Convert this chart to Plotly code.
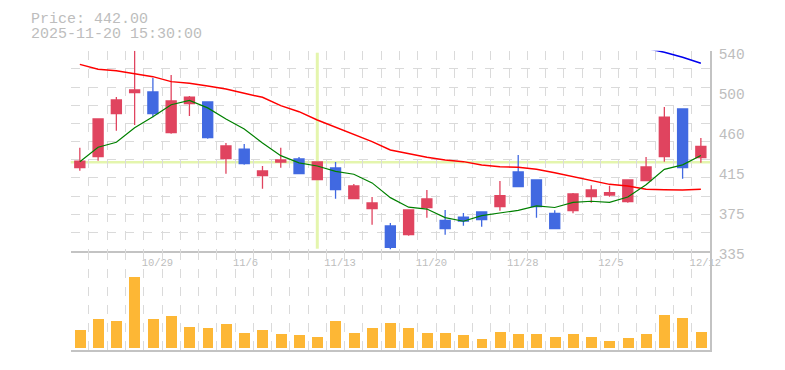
import plotly.graph_objects as go

# ---------------- data ----------------
dates = ["10/23", "10/24", "10/27", "10/28", "10/29", "10/30", "10/31", "11/4", "11/5", "11/6",
         "11/7", "11/10", "11/11", "11/12", "11/13", "11/14", "11/17", "11/18", "11/19", "11/20",
         "11/21", "11/25", "11/26", "11/27", "11/28", "12/1", "12/2", "12/3", "12/4", "12/5",
         "12/8", "12/9", "12/10", "12/11", "12/12"]

opens  = [420.1, 431.4, 475.5, 497.0, 497.7, 456.0, 485.7, 487.4, 429.3, 439.2,
          411.9, 425.9, 429.0, 407.8, 419.8, 388.3, 378.1, 360.3, 351.4, 379.1,
          366.1, 369.5, 374.7, 380.1, 415.7, 407.5, 373.3, 376.0, 390.4, 392.1,
          385.3, 406.8, 431.4, 480.3, 430.4]
highs  = [440.6, 470.7, 492.5, 540.0, 512.0, 515.1, 493.6, 487.6, 445.4, 444.4,
          421.8, 440.6, 431.0, 426.6, 425.9, 403.4, 390.0, 363.4, 376.9, 397.2,
          376.7, 373.6, 374.9, 406.5, 433.1, 408.2, 376.4, 394.1, 402.0, 401.7,
          407.7, 431.0, 482.3, 480.9, 450.5]
lows   = [417.0, 427.3, 458.0, 463.9, 471.7, 455.0, 473.1, 449.8, 414.0, 423.2,
          398.6, 420.1, 414.0, 407.6, 388.3, 388.1, 361.7, 336.4, 350.4, 368.9,
          351.4, 360.7, 359.6, 376.0, 400.4, 368.9, 357.4, 373.3, 384.2, 390.4,
          384.2, 406.6, 426.3, 408.8, 425.2]
closes = [426.9, 470.0, 489.5, 499.7, 475.5, 488.5, 492.5, 450.9, 442.3, 424.2,
          416.7, 428.0, 414.0, 425.9, 397.6, 401.3, 383.9, 338.5, 376.7, 388.0,
          357.6, 365.4, 366.8, 391.4, 400.6, 380.1, 357.6, 393.1, 397.2, 394.5,
          407.5, 420.8, 472.0, 420.1, 442.0]

ma_short = [426.2, 441.0, 446.1, 461.1, 472.3, 484.6, 489.1, 481.4, 469.9, 459.7,
            445.3, 432.4, 425.0, 421.8, 416.4, 413.4, 404.5, 389.4, 379.6, 377.7,
            368.9, 365.2, 370.9, 373.8, 376.4, 380.9, 379.3, 384.6, 385.7, 384.5,
            390.0, 402.6, 418.4, 423.0, 432.5]
ma_mid = [526.0, 520.9, 519.5, 516.8, 513.4, 508.3, 506.6, 503.8, 500.7, 496.3,
          492.2, 483.7, 477.5, 469.0, 461.4, 453.6, 446.8, 438.2, 434.1, 430.7,
          428.0, 426.3, 422.8, 421.1, 420.5, 418.4, 415.0, 410.9, 406.8, 403.0,
          401.3, 397.9, 397.6, 397.2, 398.0]
ma_long = [None] * 31 + [542.5, 538.4, 533.2, 527.1]

volumes = [180, 290, 270, 713, 290, 320, 210, 200, 240, 150,
           180, 140, 130, 110, 270, 150, 200, 250, 200, 150,
           150, 130, 90, 160, 140, 140, 110, 140, 110, 70,
           100, 140, 330, 300, 160]

label_dates = ["10/29", "11/6", "11/13", "11/20", "11/28", "12/5", "12/12"]

price_tick_vals = [335, 376, 417, 458, 499, 540]
price_tick_text = ["335", "375", "415", "460", "500", "540"]

last_price = 442.00
timestamp = "2025-11-20 15:30:00"
cross_index = 13
cross_price = 425.6

# ---------------- styling ----------------
RED = "#e0445f"
BLUE = "#4169e1"
ORANGE = "#fdb735"
GRID = "#dadada"
AXIS = "#c3c3c3"
TEXT = "#bdbdbd"
CROSS = "#e4f5ad"
FONT = "Liberation Mono, DejaVu Sans Mono, monospace"

W, H = 785, 370
xl, xr = 70.7, 710.0
p_top, p_bot = 50.7, 250.7
v_bot = 350.0

idx = list(range(len(dates)))
label_idx = [dates.index(d) for d in label_dates]

fig = go.Figure()

# invisible trace that carries the horizontal dashed grid axis
fig.add_trace(go.Scatter(x=[0], y=[0], mode="markers", marker=dict(opacity=0), xaxis="x", yaxis="y3",
                         hoverinfo="skip", showlegend=False))

fig.add_trace(go.Scatter(x=idx, y=ma_mid, mode="lines", line=dict(color="#ff0000", width=1.5),
                         xaxis="x", yaxis="y", hoverinfo="skip", showlegend=False))
fig.add_trace(go.Scatter(x=idx, y=ma_short, mode="lines", line=dict(color="#008000", width=1.2),
                         xaxis="x", yaxis="y", hoverinfo="skip", showlegend=False))
fig.add_trace(go.Scatter(x=idx, y=ma_long, mode="lines", line=dict(color="#0000ee", width=1.6),
                         xaxis="x", yaxis="y", hoverinfo="skip", showlegend=False))

fig.add_trace(go.Candlestick(
    x=idx, open=opens, high=highs, low=lows, close=closes,
    increasing=dict(fillcolor=RED, line=dict(color=RED, width=1.3)),
    decreasing=dict(fillcolor=BLUE, line=dict(color=BLUE, width=1.3)),
    whiskerwidth=0, xaxis="x", yaxis="y", showlegend=False))

fig.add_trace(go.Bar(x=idx, y=volumes, marker=dict(color=ORANGE, line=dict(width=0)),
                     width=0.6, xaxis="x2", yaxis="y2", showlegend=False))

# crosshair
fig.add_shape(type="line", xref="x", yref="y domain", x0=cross_index, x1=cross_index,
              y0=0.01, y1=0.99, line=dict(color=CROSS, width=3), layer="below")
fig.add_shape(type="line", xref="x domain", yref="y", x0=0, x1=1,
              y0=cross_price, y1=cross_price, line=dict(color=CROSS, width=2.5), layer="below")

fig.add_annotation(text=f"Price: {last_price:.2f}", xref="paper", yref="paper",
                   x=29 / W, y=1 - 19.5 / H, xanchor="left", yanchor="middle", showarrow=False,
                   font=dict(family=FONT, size=15, color=TEXT))
fig.add_annotation(text=timestamp, xref="paper", yref="paper",
                   x=29 / W, y=1 - 34.5 / H, xanchor="left", yanchor="middle", showarrow=False,
                   font=dict(family=FONT, size=15, color=TEXT))

xdom = [xl / W, xr / W]
minor_grid = dict(tick0=0.5, dtick=1, showgrid=True, gridcolor=GRID, griddash="dash", gridwidth=1, ticks="")

fig.update_layout(
    width=W, height=H, autosize=False,
    margin=dict(l=0, r=0, t=0, b=0, pad=0, autoexpand=False),
    paper_bgcolor="white", plot_bgcolor="white",
    boxgap=0.45, boxgroupgap=0, bargap=0,
    showlegend=False, hovermode=False,
    xaxis=dict(domain=xdom, range=[-0.5, 34.5], anchor="y",
               tickvals=label_idx, ticktext=label_dates, showgrid=False, zeroline=False,
               ticks="", ticklabelposition="outside right", ticklabelshift=-12, ticklabelstandoff=1,
               tickfont=dict(family=FONT, size=10.5, color=TEXT),
               showline=True, linecolor=AXIS, linewidth=1.5, automargin=False,
               minor=minor_grid, rangeslider=dict(visible=False), fixedrange=True),
    yaxis=dict(domain=[1 - p_bot / H, 1 - p_top / H], range=[335, 540], side="right",
               tickvals=price_tick_vals, ticktext=price_tick_text, showgrid=False, zeroline=False,
               ticks="", ticklabelstandoff=4, ticklabelshift=3,
               tickfont=dict(family=FONT, size=14.5, color=TEXT),
               showline=True, linecolor=AXIS, linewidth=1.5, automargin=False, fixedrange=True),
    yaxis3=dict(overlaying="y", range=[0, 11], dtick=1, tick0=0, showgrid=True, gridcolor=GRID,
                griddash="dash", showticklabels=False, zeroline=False, ticks="", side="left",
                automargin=False, fixedrange=True),
    xaxis2=dict(domain=xdom, range=[-0.5, 34.5], anchor="y2", matches="x",
                showticklabels=False, showgrid=False, zeroline=False, ticks="", automargin=False,
                showline=True, linecolor=AXIS, linewidth=1.5, minor=minor_grid, fixedrange=True),
    yaxis2=dict(domain=[1 - v_bot / H, 1 - p_bot / H], range=[-20, 973], side="right",
                showticklabels=False, showgrid=False, zeroline=False, ticks="", automargin=False,
                showline=True, linecolor=AXIS, linewidth=1.5, fixedrange=True),
)

fig.write_html("out.html", config={"displayModeBar": False},
               post_script="document.body.style.margin='0';document.body.style.overflow='hidden';")
